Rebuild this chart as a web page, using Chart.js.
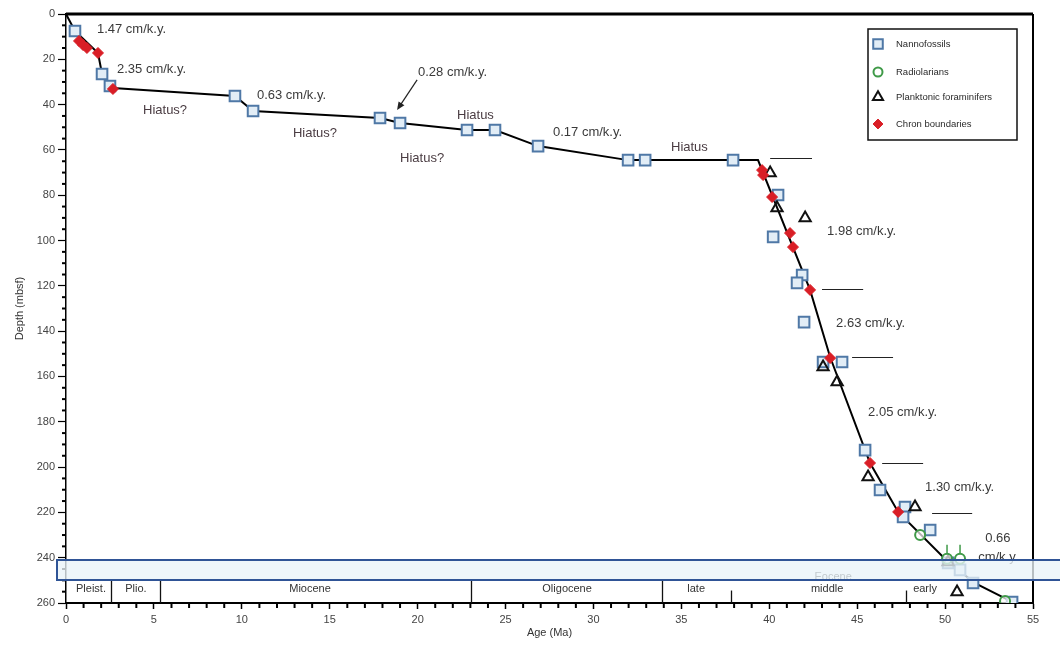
<!DOCTYPE html>
<html>
<head>
<meta charset="utf-8">
<script src="https://cdn.jsdelivr.net/npm/chart.js@4.4.1/dist/chart.umd.min.js"></script>
<style>
  html, body { margin: 0; padding: 0; background: #fff; }
  #wrap { width: 1060px; height: 648px; }
</style>
</head>
<body>
<div id="wrap"><canvas id="ageDepth" width="1060" height="648"></canvas></div>
<script>
"use strict";

// Datums: age (Ma) and depth (mbsf)
const nannoAge = [0.51, 2.05, 2.50, 9.61, 10.64, 17.86, 19.0, 22.81, 24.40, 26.85, 31.97, 32.94, 37.94,
    40.50, 40.22, 41.87, 41.58, 41.98, 43.06, 44.14, 45.45, 46.30, 47.72, 47.61, 49.15, 50.17, 50.85, 51.59, 53.81];
const nannoDepth = [7.5, 26.5, 31.8, 36.2, 42.8, 45.9, 48.1, 51.2, 51.2, 58.3, 64.5, 64.5, 64.5,
    79.9, 98.4, 115.2, 118.7, 136.0, 153.6, 153.6, 192.5, 210.1, 217.6, 222.0, 227.8, 242.3, 245.4, 251.2, 259.6];

const radioAge = [48.58, 50.11, 50.85, 53.41];
const radioDepth = [230.0, 240.5, 240.5, 259.1];
const radioUpper = [0, 4, 4, 0];   // upward depth range (m)

const foramAge = [40.05, 40.44, 42.04, 43.06, 43.86, 45.62, 48.29, 50.17, 50.68];
const foramDepth = [70.2, 85.6, 90.1, 155.8, 162.4, 204.4, 217.6, 241.9, 255.1];

const chronAge = [0.74, 0.97, 1.19, 1.82, 2.67, 39.59, 39.65, 40.16, 41.18, 41.35, 42.32, 43.46, 45.73, 47.33];
const chronDepth = [11.9, 13.7, 15.0, 17.2, 33.1, 68.9, 71.1, 80.8, 96.7, 102.9, 121.8, 151.9, 198.2, 219.8];

// Age-depth model
const modelAge = [0, 0.51, 1.82, 2.05, 2.50, 2.67, 9.61, 10.64, 17.86, 19.0, 22.81, 24.40, 26.85, 31.97,
    39.36, 42.32, 43.46, 45.73, 47.33, 50.17, 51.7, 53.7];
const modelDepth = [0, 7.5, 17.2, 26.5, 31.8, 32.7, 36.2, 42.8, 45.9, 48.1, 51.2, 51.2, 58.3, 64.5,
    64.5, 121.8, 151.4, 198.2, 219.8, 241.9, 251.2, 259.1];

// Sedimentation rate / hiatus notes [text, age, depth]
const rateNotes = [
    ['1.47 cm/k.y.', 1.76, 6.6],
    ['2.35 cm/k.y.', 2.90, 24.3],
    ['Hiatus?', 4.38, 42.4],
    ['0.63 cm/k.y.', 10.86, 35.8],
    ['Hiatus?', 12.91, 52.5],
    ['0.28 cm/k.y.', 20.02, 25.6],
    ['Hiatus?', 19.0, 63.6],
    ['Hiatus', 22.24, 44.6],
    ['0.17 cm/k.y.', 27.70, 52.1],
    ['Hiatus', 34.41, 58.7],
    ['1.98 cm/k.y.', 43.29, 95.8],
    ['2.63 cm/k.y.', 43.80, 136.8],
    ['2.05 cm/k.y.', 45.62, 175.7],
    ['1.30 cm/k.y.', 48.86, 208.8],
    ['0.66', 52.28, 231.3],
    ['cm/k.y.', 51.88, 239.7]
];
// Segment break marks [ageFrom, ageTo, depth]
const breakMarks = [[40.05, 42.43, 63.6], [43.0, 45.34, 121.4], [44.71, 47.04, 151.4], [46.42, 48.75, 198.2], [49.26, 51.54, 220.3]];

// Epochs
const epochBounds = [2.58, 5.33, 23.03, 33.9];
const subBounds = [37.8, 47.8];
const epochLabels = [['Pleist.', 1.42], ['Plio.', 3.98], ['Miocene', 13.88], ['Oligocene', 28.5],
    ['late', 35.84], ['middle', 43.29], ['early', 48.86]];

const FONT = "'Liberation Sans', Arial, Helvetica, sans-serif";
Chart.defaults.font.family = FONT;

const toXY = (ages, depths) => ages.map((a, i) => ({ x: a, y: depths[i] }));

const styles = {
    nanno: { pointStyle: 'rect', radius: 7.5, fill: '#e2edf6', stroke: '#4f78a6', width: 2 },
    radio: { pointStyle: 'circle', radius: 5, fill: 'rgba(255,255,255,0.7)', stroke: '#3f9a48', width: 2 },
    foram: { pointStyle: 'triangle', radius: 6.5, fill: 'rgba(255,255,255,0)', stroke: '#111111', width: 2 },
    chron: { pointStyle: 'rectRot', radius: 5.5, fill: '#d91e26', stroke: '#d91e26', width: 1 }
};

function pointSet(label, data, s, order) {
    return {
        label: label,
        data: data,
        pointStyle: s.pointStyle,
        pointRadius: s.radius,
        pointBackgroundColor: s.fill,
        pointBorderColor: s.stroke,
        pointBorderWidth: s.width,
        showLine: false,
        order: order
    };
}

const decorPlugin = {
    id: 'decor',
    afterDatasetsDraw(chart) {
        const ctx = chart.ctx;
        const xs = chart.scales.x, ys = chart.scales.y;
        const area = chart.chartArea;
        ctx.save();

        // radiolarian range whiskers
        const rmeta = chart.getDatasetMeta(1);
        ctx.strokeStyle = styles.radio.stroke;
        ctx.lineWidth = 1.5;
        radioUpper.forEach((u, i) => {
            if (!u) return;
            const p = rmeta.data[i];
            ctx.beginPath();
            ctx.moveTo(p.x, p.y - styles.radio.radius);
            ctx.lineTo(p.x, ys.getPixelForValue(radioDepth[i] - u) - styles.radio.radius);
            ctx.stroke();
        });

        // notes
        ctx.font = '13px ' + FONT;
        ctx.textBaseline = 'middle';
        ctx.textAlign = 'left';
        rateNotes.forEach(n => {
            ctx.fillStyle = n[0].indexOf('Hiatus') === 0 ? '#4a3c42' : '#3a3a3a';
            ctx.fillText(n[0], xs.getPixelForValue(n[1]), ys.getPixelForValue(n[2]));
        });

        // break marks
        ctx.strokeStyle = '#222';
        ctx.lineWidth = 1.2;
        breakMarks.forEach(m => {
            const y = Math.round(ys.getPixelForValue(m[2])) + 0.5;
            ctx.beginPath();
            ctx.moveTo(xs.getPixelForValue(m[0]), y);
            ctx.lineTo(xs.getPixelForValue(m[1]), y);
            ctx.stroke();
        });

        // arrow to the 0.28 cm/k.y. interval
        const ax0 = xs.getPixelForValue(19.97), ay0 = ys.getPixelForValue(29.1);
        const ax1 = xs.getPixelForValue(18.83), ay1 = ys.getPixelForValue(42.4);
        const ang = Math.atan2(ay1 - ay0, ax1 - ax0);
        ctx.strokeStyle = '#222';
        ctx.fillStyle = '#222';
        ctx.lineWidth = 1.2;
        ctx.beginPath();
        ctx.moveTo(ax0, ay0);
        ctx.lineTo(ax1 - 5 * Math.cos(ang), ay1 - 5 * Math.sin(ang));
        ctx.stroke();
        ctx.beginPath();
        ctx.moveTo(ax1, ay1);
        ctx.lineTo(ax1 - 8 * Math.cos(ang) + 3.5 * Math.sin(ang), ay1 - 8 * Math.sin(ang) - 3.5 * Math.cos(ang));
        ctx.lineTo(ax1 - 8 * Math.cos(ang) - 3.5 * Math.sin(ang), ay1 - 8 * Math.sin(ang) + 3.5 * Math.cos(ang));
        ctx.closePath();
        ctx.fill();

        // epoch strip
        const yTop = ys.getPixelForValue(249.5);
        const ySub = ys.getPixelForValue(254.5);
        ctx.strokeStyle = '#111';
        ctx.lineWidth = 1.3;
        epochBounds.forEach(a => {
            const x = Math.round(xs.getPixelForValue(a)) + 0.5;
            ctx.beginPath(); ctx.moveTo(x, yTop); ctx.lineTo(x, area.bottom); ctx.stroke();
        });
        subBounds.forEach(a => {
            const x = Math.round(xs.getPixelForValue(a)) + 0.5;
            ctx.beginPath(); ctx.moveTo(x, ySub); ctx.lineTo(x, area.bottom); ctx.stroke();
        });
        ctx.font = '11px ' + FONT;
        ctx.textAlign = 'center';
        ctx.fillStyle = '#333';
        epochLabels.forEach(e => {
            ctx.fillText(e[0], xs.getPixelForValue(e[1]), ys.getPixelForValue(253.8));
        });
        ctx.fillText('Eocene', xs.getPixelForValue(43.63), ys.getPixelForValue(248.6));

        // legend
        const lx = 868, ly = 29, lw = 149, lh = 111;
        ctx.fillStyle = '#fff';
        ctx.fillRect(lx, ly, lw, lh);
        ctx.strokeStyle = '#111';
        ctx.lineWidth = 1.5;
        ctx.strokeRect(lx, ly, lw, lh);
        const items = [
            ['Nannofossils', styles.nanno, 44],
            ['Radiolarians', styles.radio, 72],
            ['Planktonic foraminifers', styles.foram, 97],
            ['Chron boundaries', styles.chron, 124]
        ];
        ctx.font = '9.5px ' + FONT;
        ctx.textAlign = 'left';
        items.forEach(it => {
            const s = it[1];
            ctx.fillStyle = s.fill;
            ctx.strokeStyle = s.stroke;
            ctx.lineWidth = s.width;
            Chart.helpers.drawPoint(ctx, { pointStyle: s.pointStyle, radius: s.radius * 0.9, rotation: 0, borderWidth: s.width }, 878, it[2]);
            ctx.fillStyle = '#2a2a2a';
            ctx.fillText(it[0], 896, it[2]);
        });
        ctx.restore();
    },
    afterDraw(chart) {
        const ctx = chart.ctx;
        const area = chart.chartArea;
        ctx.save();
        // frame top and right
        ctx.strokeStyle = '#000';
        ctx.lineWidth = 3;
        ctx.beginPath();
        ctx.moveTo(area.left, area.top);
        ctx.lineTo(area.right, area.top);
        ctx.stroke();
        ctx.lineWidth = 2;
        ctx.beginPath();
        ctx.moveTo(area.right, area.top);
        ctx.lineTo(area.right, area.bottom + 1);
        ctx.stroke();

        // minor ticks
        const xs = chart.scales.x, ys = chart.scales.y;
        ctx.lineWidth = 2;
        for (let d = 5; d < 260; d += 5) {
            if (d % 20 === 0) continue;
            const y = ys.getPixelForValue(d);
            ctx.beginPath(); ctx.moveTo(area.left - 4, y); ctx.lineTo(area.left, y); ctx.stroke();
        }
        for (let a = 1; a < 55; a++) {
            if (a % 5 === 0) continue;
            const x = xs.getPixelForValue(a);
            ctx.beginPath(); ctx.moveTo(x, area.bottom); ctx.lineTo(x, area.bottom + 5); ctx.stroke();
        }

        // highlighted band
        ctx.fillStyle = 'rgba(233,243,249,0.78)';
        ctx.fillRect(57, 560, 1010, 20);
        ctx.strokeStyle = '#2f5496';
        ctx.lineWidth = 2;
        ctx.strokeRect(57, 560, 1010, 20);
        ctx.restore();
    }
};

new Chart(document.getElementById('ageDepth'), {
    type: 'scatter',
    data: {
        datasets: [
            pointSet('Nannofossils', toXY(nannoAge, nannoDepth), styles.nanno, 4),
            pointSet('Radiolarians', toXY(radioAge, radioDepth), styles.radio, 2),
            pointSet('Planktonic foraminifers', toXY(foramAge, foramDepth), styles.foram, 3),
            pointSet('Chron boundaries', toXY(chronAge, chronDepth), styles.chron, 1),
            {
                label: 'model',
                data: toXY(modelAge, modelDepth),
                showLine: true,
                borderColor: '#000',
                borderWidth: 2,
                pointRadius: 0,
                order: 10
            }
        ]
    },
    options: {
        responsive: false,
        devicePixelRatio: 1,
        animation: false,
        events: [],
        layout: { padding: { top: 14, right: 27, left: 0, bottom: 0 } },
        plugins: {
            legend: { display: false },
            tooltip: { enabled: false }
        },
        scales: {
            x: {
                type: 'linear',
                min: 0,
                max: 55,
                afterFit: s => { s.height = 45; },
                ticks: { stepSize: 5, color: '#444', font: { size: 11 }, padding: 4 },
                grid: { drawOnChartArea: false, tickLength: 6, tickColor: '#000', tickWidth: 1.5 },
                border: { color: '#000', width: 2 },
                title: { display: true, text: 'Age (Ma)', color: '#333', font: { size: 11 }, padding: { top: 0, bottom: 8 } }
            },
            y: {
                type: 'linear',
                reverse: true,
                min: 0,
                max: 260,
                afterFit: s => { s.width = 66; },
                ticks: { stepSize: 20, color: '#444', font: { size: 11 }, padding: 3 },
                grid: { drawOnChartArea: false, tickLength: 8, tickColor: '#000', tickWidth: 1.2 },
                border: { color: '#000', width: 1.5 },
                title: { display: true, text: 'Depth (mbsf)', color: '#333', font: { size: 11 }, padding: { top: 13, bottom: 0 } }
            }
        }
    },
    plugins: [decorPlugin]
});
</script>
</body>
</html>
